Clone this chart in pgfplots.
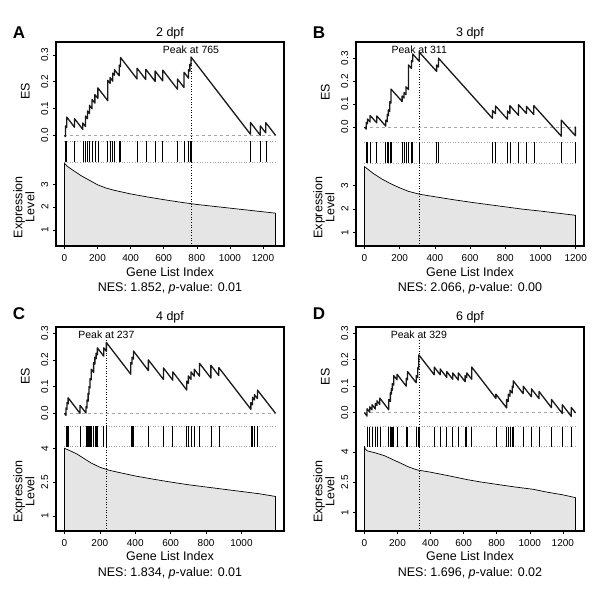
\documentclass[border=0pt]{standalone}
\usepackage{fontspec}
\setmainfont{Liberation Sans}
\usepackage{pgfplots}
\pgfplotsset{compat=1.18}
\newcommand\lab{\fontsize{12.5}{12}\selectfont}
\newcommand\tk{\fontsize{10}{12}\selectfont}
\newcommand\pk{\fontsize{10.5}{12}\selectfont}
\newcommand\pl{\bfseries\fontsize{17}{20}\selectfont}
\pgfplotsset{
 gbase/.style={scale only axis, width=228pt, axis line style={draw=none}, tick align=outside,
   major tick length=3pt, tick style={black, line width=0.5pt}, tick label style={font=\tk, inner sep=0pt},
   /pgf/number format/assume math mode=true, xtick pos=bottom, ytick pos=left},
 ges/.style={gbase, xtick=\empty, ytick={0,0.1,0.2,0.3}, yticklabels={0.0,0.1,0.2,0.3},
   yticklabel style={rotate=90, anchor=south}, yticklabel shift=4.5pt},
 ghit/.style={gbase, xtick=\empty, ytick=\empty, ymin=0, ymax=1, clip=false},
 gex/.style={gbase, yticklabel style={rotate=90, anchor=south}, yticklabel shift=4.5pt,
   xticklabel style={anchor=north}, xticklabel shift=5pt},
 esline/.style={black!90, line width=1.3pt, line join=round, no marks},
 zero/.style={gray!70, dashed, line width=0.5pt, no marks},
 hitline/.style={ycomb, black, line width=0.6pt, no marks},
 dotl/.style={gray!70, dotted, line width=0.6pt, no marks},
 peakl/.style={black, dotted, line width=0.6pt, no marks},
 exfill/.style={fill=black!10, draw=black, line width=0.7pt, no marks},
}
\begin{document}
\begin{tikzpicture}
\path[use as bounding box] (0,0) rectangle (600pt,-594pt);
% ================= Panel A =================
\begin{axis}[ges, name=esA, at={(56pt,-42pt)}, anchor=north west, height=99.3pt,
  xmin=-51, xmax=1327, ymin=-0.0224, ymax=0.348]
\addplot[zero] coordinates {(0,0) (1276,0)};
\addplot[peakl] coordinates {(765,-0.0224) (765,0.296)};
\addplot[esline] coordinates {(0,0) (6,-0.005) (6,0.035) (14,0.029) (14,0.068) (61,0.030) (61,0.062) (111,0.022) (111,0.046) (127,0.033) (127,0.072) (139,0.062) (139,0.091) (151,0.081) (151,0.112) (167,0.099) (167,0.134) (184,0.120) (184,0.152) (202,0.138) (202,0.177) (262,0.129) (262,0.205) (276,0.194) (276,0.215) (292,0.202) (292,0.232) (302,0.224) (302,0.245) (331,0.222) (331,0.262) (339,0.256) (339,0.290) (439,0.210) (439,0.250) (492,0.208) (492,0.246) (548,0.201) (548,0.240) (594,0.203) (594,0.243) (683,0.172) (683,0.210) (723,0.178) (723,0.235) (750,0.213) (750,0.245) (758,0.239) (758,0.265) (765,0.259) (765,0.292) (1124,0.004) (1124,0.048) (1184,0.000) (1184,0.035) (1217,0.009) (1217,0.047) (1276,0.000)};
\node[anchor=base, font=\pk] at ([yshift=-11.5pt]axis cs:765,0.348) {Peak at 765};
\end{axis}
\begin{axis}[ghit, name=hitA, at={(56pt,-141.3pt)}, anchor=north west, height=21pt, xmin=-51, xmax=1327]
\addplot[dotl] coordinates {(0,0) (1276,0)};
\addplot[dotl] coordinates {(0,1) (1276,1)};
\addplot[peakl] coordinates {(765,0) (765,1)};
\addplot[hitline] coordinates {(6,1) (14,1) (61,1) (111,1) (127,1) (139,1) (151,1) (167,1) (184,1) (202,1) (262,1) (276,1) (292,1) (302,1) (331,1) (339,1) (439,1) (492,1) (548,1) (594,1) (683,1) (723,1) (750,1) (758,1) (765,1) (1124,1) (1184,1) (1217,1)};
\end{axis}
\begin{axis}[gex, name=exA, at={(56pt,-162.3pt)}, anchor=north west, height=83.7pt,
  xmin=-51, xmax=1327, ymin=0.306, ymax=3.961, ytick={1,2,3}, yticklabels={1,2,3},
  xtick={0,200,400,600,800,1000,1200}, xticklabels={0,200,400,600,800,1000,1200}]
\addplot[exfill] coordinates {(0,0.306) (0,3.92) (15,3.80) (50,3.62) (100,3.38) (150,3.18) (200,2.98) (250,2.84) (300,2.74) (400,2.58) (500,2.45) (600,2.33) (700,2.22) (800,2.12) (900,2.04) (1000,1.96) (1100,1.88) (1200,1.80) (1276,1.74) (1276,0.306)};
\addplot[peakl] coordinates {(765,0.306) (765,3.961)};
\end{axis}
\draw[line width=1.5pt] (esA.north west) rectangle (exA.south east);
\node[anchor=base, font=\lab] at ([yshift=5.3pt]esA.north) {2 dpf};
\node[rotate=90, font=\lab] at ([xshift=-30.7pt]esA.west) {ES};
\node[rotate=90, font=\lab, align=center] at ([xshift=-32pt,yshift=-3pt]exA.west) {Expression\\Level};
\node[anchor=base, font=\lab] at ([yshift=-30.7pt]exA.south) {Gene List Index};
\node[anchor=base, font=\lab] at ([yshift=-45.7pt]exA.south) {NES: 1.852, \textit{p}-value: 0.01};
\node[anchor=base west, inner sep=0pt, font=\pl] at (12.7pt,-38.7pt) {A};
% ================= Panel B =================
\begin{axis}[ges, name=esB, at={(356pt,-42pt)}, anchor=north west, height=100.3pt,
  xmin=-48, xmax=1247, ymin=-0.0665, ymax=0.370]
\addplot[zero] coordinates {(0,0) (1199,0)};
\addplot[peakl] coordinates {(311,-0.0665) (311,0.326)};
\addplot[esline] coordinates {(0,0) (10,-0.009) (10,0.020) (17,0.014) (17,0.035) (32,0.022) (32,0.050) (70,0.018) (70,0.048) (121,0.004) (121,0.030) (129,0.023) (129,0.055) (136,0.049) (136,0.075) (144,0.068) (144,0.110) (151,0.104) (151,0.165) (214,0.111) (214,0.135) (225,0.126) (225,0.150) (236,0.141) (236,0.175) (250,0.163) (250,0.270) (267,0.255) (267,0.290) (274,0.284) (274,0.318) (311,0.286) (311,0.326) (410,0.242) (410,0.270) (420,0.261) (420,0.300) (727,0.038) (727,0.072) (744,0.058) (744,0.092) (812,0.034) (812,0.070) (826,0.058) (826,0.093) (875,0.051) (875,0.097) (920,0.059) (920,0.090) (962,0.054) (962,0.093) (1118,-0.040) (1118,0.030) (1198,-0.038) (1198,0.000) (1199,-0.001)};
\node[anchor=base, font=\pk] at ([yshift=-11.5pt]axis cs:311,0.370) {Peak at 311};
\end{axis}
\begin{axis}[ghit, name=hitB, at={(356pt,-142.3pt)}, anchor=north west, height=21pt, xmin=-48, xmax=1247]
\addplot[dotl] coordinates {(0,0) (1199,0)};
\addplot[dotl] coordinates {(0,1) (1199,1)};
\addplot[peakl] coordinates {(311,0) (311,1)};
\addplot[hitline] coordinates {(10,1) (17,1) (32,1) (70,1) (121,1) (129,1) (136,1) (144,1) (151,1) (214,1) (225,1) (236,1) (250,1) (267,1) (274,1) (311,1) (410,1) (420,1) (727,1) (744,1) (812,1) (826,1) (875,1) (920,1) (962,1) (1118,1) (1198,1)};
\end{axis}
\begin{axis}[gex, name=exB, at={(356pt,-163.3pt)}, anchor=north west, height=82.7pt,
  xmin=-48, xmax=1247, ymin=0.434, ymax=3.953, ytick={1,2,3}, yticklabels={1,2,3},
  xtick={0,200,400,600,800,1000,1200}, xticklabels={0,200,400,600,800,1000,1200}]
\addplot[exfill] coordinates {(0,0.434) (0,3.81) (20,3.70) (50,3.52) (100,3.28) (150,3.08) (200,2.91) (250,2.76) (311,2.64) (400,2.53) (500,2.41) (600,2.30) (700,2.20) (800,2.10) (900,2.00) (1000,1.92) (1100,1.83) (1199,1.74) (1199,0.434)};
\addplot[peakl] coordinates {(311,0.434) (311,3.953)};
\end{axis}
\draw[line width=1.5pt] (esB.north west) rectangle (exB.south east);
\node[anchor=base, font=\lab] at ([yshift=5.3pt]esB.north) {3 dpf};
\node[rotate=90, font=\lab] at ([xshift=-30.7pt]esB.west) {ES};
\node[rotate=90, font=\lab, align=center] at ([xshift=-32pt,yshift=-3pt]exB.west) {Expression\\Level};
\node[anchor=base, font=\lab] at ([yshift=-30.7pt]exB.south) {Gene List Index};
\node[anchor=base, font=\lab] at ([yshift=-45.7pt]exB.south) {NES: 2.066, \textit{p}-value: 0.00};
\node[anchor=base west, inner sep=0pt, font=\pl] at (312.7pt,-38.7pt) {B};
% ================= Panel C =================
\begin{axis}[ges, name=esC, at={(56pt,-327pt)}, anchor=north west, height=99pt,
  xmin=-47.5, xmax=1240, ymin=-0.0476, ymax=0.323]
\addplot[zero] coordinates {(0,0) (1192,0)};
\addplot[peakl] coordinates {(237,-0.0476) (237,0.278)};
\addplot[esline] coordinates {(0,0) (9,-0.008) (9,0.020) (15,0.015) (15,0.040) (21,0.035) (21,0.058) (88,0.000) (88,0.030) (122,0.001) (122,0.025) (128,0.020) (128,0.050) (134,0.045) (134,0.075) (139,0.071) (139,0.100) (145,0.095) (145,0.130) (151,0.125) (151,0.165) (165,0.153) (165,0.190) (172,0.184) (172,0.210) (179,0.204) (179,0.225) (186,0.219) (186,0.245) (222,0.214) (222,0.245) (237,0.232) (237,0.265) (375,0.146) (375,0.190) (382,0.184) (382,0.210) (390,0.203) (390,0.233) (474,0.160) (474,0.200) (559,0.127) (559,0.170) (612,0.124) (612,0.155) (691,0.087) (691,0.120) (700,0.112) (700,0.140) (715,0.127) (715,0.155) (733,0.139) (733,0.165) (763,0.139) (763,0.187) (827,0.132) (827,0.180) (872,0.141) (872,0.171) (1053,0.015) (1053,0.040) (1062,0.032) (1062,0.060) (1073,0.050) (1073,0.070) (1090,0.055) (1090,0.087) (1192,0.000)};
\node[anchor=base, font=\pk] at ([yshift=-11pt]axis cs:237,0.323) {Peak at 237};
\end{axis}
\begin{axis}[ghit, name=hitC, at={(56pt,-426pt)}, anchor=north west, height=20.5pt, xmin=-47.5, xmax=1240]
\addplot[dotl] coordinates {(0,0) (1192,0)};
\addplot[dotl] coordinates {(0,1) (1192,1)};
\addplot[peakl] coordinates {(237,0) (237,1)};
\addplot[hitline] coordinates {(9,1) (15,1) (21,1) (88,1) (122,1) (128,1) (134,1) (139,1) (145,1) (151,1) (165,1) (172,1) (179,1) (186,1) (222,1) (237,1) (375,1) (382,1) (390,1) (474,1) (559,1) (612,1) (691,1) (700,1) (715,1) (733,1) (763,1) (827,1) (872,1) (1053,1) (1062,1) (1073,1) (1090,1)};
\end{axis}
\begin{axis}[gex, name=exC, at={(56pt,-446.5pt)}, anchor=north west, height=84.5pt,
  xmin=-47.5, xmax=1240, ymin=0.324, ymax=4.08, ytick={1,2.5,4}, yticklabels={1,2.5,4},
  xtick={0,200,400,600,800,1000}, xticklabels={0,200,400,600,800,1000}]
\addplot[exfill] coordinates {(0,0.324) (0,4.00) (30,3.90) (70,3.75) (100,3.60) (150,3.35) (200,3.16) (250,3.03) (300,2.94) (400,2.77) (500,2.63) (600,2.50) (700,2.38) (800,2.28) (900,2.18) (1000,2.08) (1100,1.98) (1192,1.86) (1192,0.324)};
\addplot[peakl] coordinates {(237,0.324) (237,4.08)};
\end{axis}
\draw[line width=1.5pt] (esC.north west) rectangle (exC.south east);
\node[anchor=base, font=\lab] at ([yshift=6.7pt]esC.north) {4 dpf};
\node[rotate=90, font=\lab] at ([xshift=-30.7pt]esC.west) {ES};
\node[rotate=90, font=\lab, align=center] at ([xshift=-32pt,yshift=-3pt]exC.west) {Expression\\Level};
\node[anchor=base, font=\lab] at ([yshift=-29.7pt]exC.south) {Gene List Index};
\node[anchor=base, font=\lab] at ([yshift=-45.7pt]exC.south) {NES: 1.834, \textit{p}-value: 0.01};
\node[anchor=base west, inner sep=0pt, font=\pl] at (12.7pt,-319.3pt) {C};
% ================= Panel D =================
\begin{axis}[ges, name=esD, at={(356pt,-327pt)}, anchor=north west, height=99.7pt,
  xmin=-51, xmax=1328, ymin=-0.0528, ymax=0.323]
\addplot[zero] coordinates {(0,0) (1277,0)};
\addplot[peakl] coordinates {(329,-0.0528) (329,0.278)};
\addplot[esline] coordinates {(0,0) (16,-0.013) (16,0.015) (32,0.002) (32,0.022) (46,0.011) (46,0.030) (66,0.014) (66,0.035) (76,0.027) (76,0.045) (93,0.031) (93,0.055) (147,0.011) (147,0.050) (157,0.042) (157,0.075) (163,0.070) (163,0.090) (169,0.085) (169,0.110) (177,0.104) (177,0.140) (197,0.124) (197,0.145) (253,0.100) (253,0.130) (261,0.124) (261,0.155) (313,0.113) (313,0.140) (323,0.132) (323,0.170) (329,0.165) (329,0.218) (422,0.143) (422,0.172) (458,0.143) (458,0.165) (498,0.133) (498,0.155) (534,0.126) (534,0.150) (568,0.123) (568,0.150) (609,0.117) (609,0.140) (619,0.132) (619,0.150) (649,0.126) (649,0.172) (795,0.054) (795,0.070) (860,0.018) (860,0.050) (870,0.042) (870,0.070) (880,0.062) (880,0.085) (894,0.074) (894,0.100) (900,0.095) (900,0.120) (960,0.072) (960,0.100) (1010,0.060) (1010,0.090) (1056,0.053) (1056,0.080) (1131,0.019) (1131,0.050) (1197,-0.003) (1197,0.030) (1251,-0.014) (1251,0.020) (1277,-0.001)};
\node[anchor=base, font=\pk] at ([yshift=-11pt]axis cs:329,0.323) {Peak at 329};
\end{axis}
\begin{axis}[ghit, name=hitD, at={(356pt,-426.7pt)}, anchor=north west, height=19.8pt, xmin=-51, xmax=1328]
\addplot[dotl] coordinates {(0,0) (1277,0)};
\addplot[dotl] coordinates {(0,1) (1277,1)};
\addplot[peakl] coordinates {(329,0) (329,1)};
\addplot[hitline] coordinates {(16,1) (32,1) (46,1) (66,1) (76,1) (93,1) (147,1) (157,1) (163,1) (169,1) (177,1) (197,1) (253,1) (261,1) (313,1) (323,1) (329,1) (422,1) (458,1) (498,1) (534,1) (568,1) (609,1) (619,1) (649,1) (795,1) (860,1) (870,1) (880,1) (894,1) (900,1) (960,1) (1010,1) (1056,1) (1131,1) (1197,1) (1251,1)};
\end{axis}
\begin{axis}[gex, name=exD, at={(356pt,-446.5pt)}, anchor=north west, height=84.5pt,
  xmin=-51, xmax=1328, ymin=0.089, ymax=4.272, ytick={1,2.5,4}, yticklabels={1,2.5,4},
  xtick={0,200,400,600,800,1000,1200}, xticklabels={0,200,400,600,800,1000,1200}]
\addplot[exfill] coordinates {(0,0.089) (0,4.30) (5,4.15) (16,4.06) (60,3.97) (120,3.82) (170,3.63) (221,3.44) (270,3.25) (321,3.11) (400,3.00) (500,2.84) (623,2.63) (700,2.52) (823,2.37) (900,2.28) (1024,2.15) (1100,2.02) (1200,1.88) (1277,1.74) (1277,0.089)};
\addplot[peakl] coordinates {(329,0.089) (329,4.272)};
\end{axis}
\draw[line width=1.5pt] (esD.north west) rectangle (exD.south east);
\node[anchor=base, font=\lab] at ([yshift=6.7pt]esD.north) {6 dpf};
\node[rotate=90, font=\lab] at ([xshift=-30.7pt]esD.west) {ES};
\node[rotate=90, font=\lab, align=center] at ([xshift=-32pt,yshift=-3pt]exD.west) {Expression\\Level};
\node[anchor=base, font=\lab] at ([yshift=-29.7pt]exD.south) {Gene List Index};
\node[anchor=base, font=\lab] at ([yshift=-45.7pt]exD.south) {NES: 1.696, \textit{p}-value: 0.02};
\node[anchor=base west, inner sep=0pt, font=\pl] at (312.7pt,-319.3pt) {D};
\end{tikzpicture}
\end{document}
